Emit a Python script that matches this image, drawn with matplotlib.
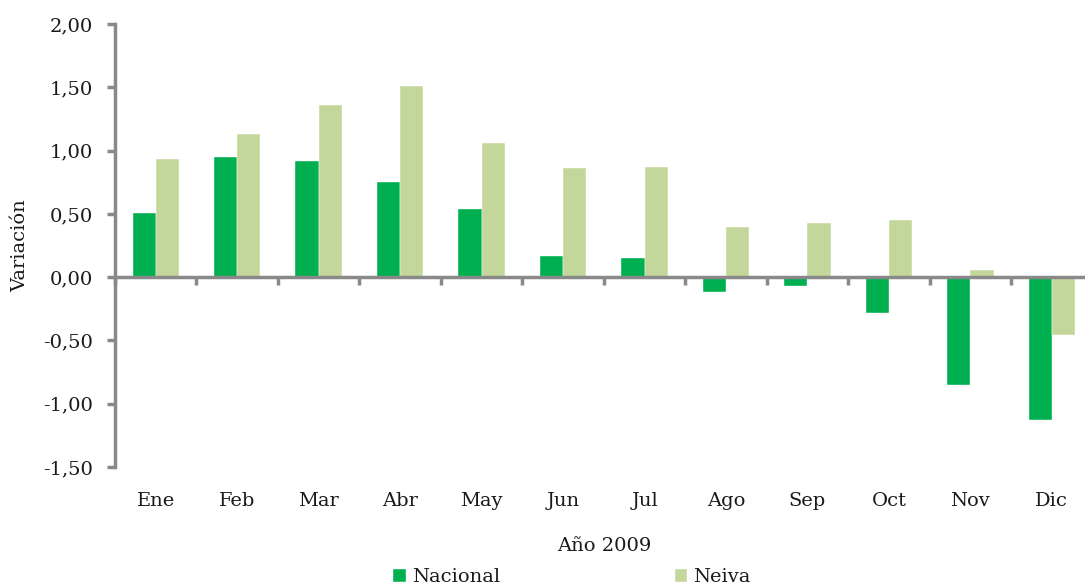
import numpy as np
import matplotlib
matplotlib.use('Agg')
import matplotlib.pyplot as plt
from matplotlib.ticker import FuncFormatter, MultipleLocator
import matplotlib.transforms as mtransforms

plt.rcParams['font.family'] = ['DejaVu Serif']

# datos
meses = ['Ene', 'Feb', 'Mar', 'Abr', 'May', 'Jun', 'Jul', 'Ago', 'Sep', 'Oct', 'Nov', 'Dic']
nacional = [0.51, 0.95, 0.92, 0.75, 0.54, 0.17, 0.15, -0.12, -0.07, -0.28, -0.85, -1.13]
neiva = [0.93, 1.13, 1.36, 1.51, 1.06, 0.86, 0.87, 0.40, 0.43, 0.45, 0.06, -0.46]

VERDE = '#00B050'
VERDE_CLARO = '#C4D79B'
GRIS = '#898989'
TXT = '#1a1a1a'
FS = 14

fig = plt.figure(figsize=(10.85, 5.88), dpi=100)
ax = fig.add_axes([0.106, 0.206, 0.901, 0.753])
ax.set_clip_on(False)

x = np.arange(len(meses))
w = 0.285
ax.bar(x - w / 2, nacional, w, color=VERDE, edgecolor='white', linewidth=0.3, label='Nacional', zorder=2)
ax.bar(x + w / 2, neiva, w, color=VERDE_CLARO, edgecolor='white', linewidth=0.3, label='Neiva', zorder=2)

ax.set_xlim(-0.5, 11.5)
ax.set_ylim(-1.5, 2.0)

# ejes
for s in ['top', 'right']:
    ax.spines[s].set_visible(False)
ax.spines['bottom'].set_position(('data', 0))
for s in ['left', 'bottom']:
    ax.spines[s].set_color(GRIS)
    ax.spines[s].set_linewidth(2.5)
ax.spines['bottom'].set_zorder(3)

ax.yaxis.set_major_locator(MultipleLocator(0.5))
ax.yaxis.set_major_formatter(FuncFormatter(lambda v, p: f"{v:.2f}".replace('.', ',')))
ax.tick_params(axis='y', direction='out', length=6, width=2.5, color=GRIS,
               pad=10, labelsize=FS, labelcolor=TXT)

ax.set_xticks(np.arange(-0.5, 12, 1))
ax.set_xticklabels([])
ax.tick_params(axis='x', direction='out', length=6, width=2.5, color=GRIS)

# etiquetas de meses
trans = mtransforms.blended_transform_factory(ax.transData, fig.transFigure)
for xi, m in zip(x, meses):
    ax.text(xi, 1 - 501 / 588, m, transform=trans, ha='center', va='center',
            fontsize=FS, color=TXT)

fig.text(0.557, 1 - 546 / 588, 'Año 2009', ha='center', va='center', fontsize=FS, color=TXT)
fig.text(0.019, 1 - 246 / 588, 'Variación', ha='center', va='center', rotation=90,
         fontsize=FS, color=TXT)

fig.legend(loc='center', bbox_to_anchor=(0.527, 1 - 577 / 588), ncol=2, frameon=False,
           fontsize=FS, handlelength=0.65, handleheight=0.65, handletextpad=0.3,
           columnspacing=9, borderaxespad=0, labelcolor=TXT)

fig.savefig('out.png', dpi=100)
